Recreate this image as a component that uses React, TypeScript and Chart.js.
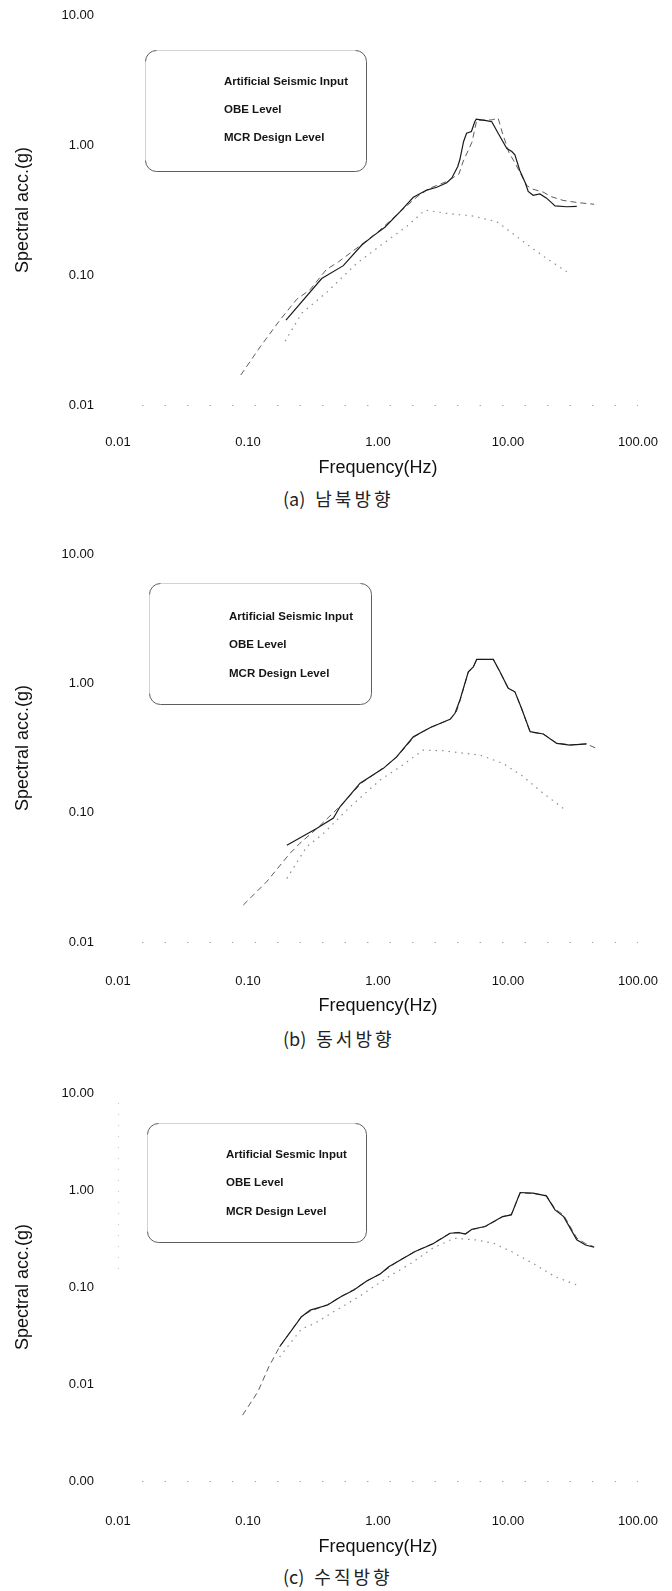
import React, { useEffect, useRef } from "react";
import { Chart, registerables } from "chart.js";

Chart.register(...registerables);

const FONT = "'Liberation Sans', Arial, Helvetica, sans-serif";
Chart.defaults.font.family = FONT;

// Axis ticks
const freqTicks = [0.01, 0.1, 1, 10, 100];
const accTicksHorizontal = [0.01, 0.1, 1, 10];
const accTicksVertical = [0.001, 0.01, 0.1, 1, 10];

// (a) 남북방향 — north-south component
const nsInputFreq = [0.196, 0.369, 0.541, 0.75, 0.92, 1.13, 1.48, 1.87, 2.37, 2.83, 3.38, 3.69, 4.1, 4.26, 4.55, 4.8, 5.23, 5.55, 5.7, 6.8, 7.5, 8.4, 9.8, 10.7, 11.3, 12.3, 13.6, 14.3, 15.6, 17.6, 19.8, 23.0, 28.3, 33.8];
const nsInputAcc = [0.045, 0.094, 0.118, 0.17, 0.2, 0.233, 0.307, 0.396, 0.45, 0.473, 0.513, 0.555, 0.68, 0.77, 1.06, 1.23, 1.27, 1.51, 1.58, 1.54, 1.51, 1.23, 0.94, 0.89, 0.84, 0.64, 0.51, 0.44, 0.41, 0.42, 0.39, 0.34, 0.335, 0.337];
const nsObeFreq = [0.193, 0.26, 0.4, 0.686, 1.1, 1.66, 2.3, 3.37, 5.4, 8.2, 10.7, 14.8, 19.8, 28.3];
const nsObeAcc = [0.031, 0.051, 0.073, 0.123, 0.175, 0.236, 0.316, 0.298, 0.284, 0.257, 0.211, 0.165, 0.134, 0.106];
const nsMcrFreq = [0.088, 0.124, 0.176, 0.237, 0.3, 0.4, 0.495, 0.75, 1.0, 1.5, 2.0, 2.5, 3.4, 4.2, 4.5, 5.28, 5.75, 7.5, 8.4, 9.0, 10.2, 11.3, 13.9, 15.2, 18.6, 21.6, 26.5, 31, 35, 46];
const nsMcrAcc = [0.017, 0.028, 0.045, 0.065, 0.077, 0.11, 0.126, 0.172, 0.215, 0.31, 0.4, 0.465, 0.525, 0.6, 0.74, 1.05, 1.55, 1.56, 1.61, 1.26, 0.87, 0.73, 0.49, 0.46, 0.435, 0.4, 0.375, 0.366, 0.36, 0.35];

// (b) 동서방향 — east-west component
const ewInputFreq = [0.199, 0.337, 0.454, 0.51, 0.728, 1.1, 1.39, 1.87, 2.51, 3.58, 3.91, 4.27, 4.95, 5.41, 5.74, 7.71, 8.67, 10.05, 11.3, 12.7, 14.8, 18.7, 23.7, 30.0, 40.3];
const ewInputAcc = [0.056, 0.0755, 0.0908, 0.111, 0.169, 0.22, 0.27, 0.386, 0.454, 0.527, 0.587, 0.743, 1.23, 1.34, 1.53, 1.53, 1.23, 0.915, 0.86, 0.641, 0.423, 0.406, 0.343, 0.333, 0.34];
const ewObeFreq = [0.199, 0.283, 0.38, 0.61, 1.04, 1.48, 2.23, 3.18, 6.1, 9.2, 13.1, 18.7, 26.6];
const ewObeAcc = [0.031, 0.0545, 0.069, 0.111, 0.179, 0.226, 0.305, 0.301, 0.279, 0.24, 0.19, 0.141, 0.108];
const ewMcrFreq = [0.092, 0.139, 0.21, 0.251, 0.337, 0.51, 0.75, 1.1, 1.4, 1.9, 2.5, 3.6, 4.0, 4.3, 4.95, 5.4, 5.75, 7.7, 8.7, 10.0, 11.3, 12.7, 14.8, 18.7, 23.7, 30, 40, 49.5];
const ewMcrAcc = [0.0193, 0.0292, 0.0484, 0.058, 0.075, 0.112, 0.17, 0.222, 0.27, 0.385, 0.455, 0.527, 0.6, 0.75, 1.22, 1.33, 1.53, 1.53, 1.22, 0.92, 0.86, 0.64, 0.42, 0.405, 0.345, 0.335, 0.34, 0.31];

// (c) 수직방향 — vertical component
const vtInputFreq = [0.175, 0.258, 0.301, 0.41, 0.518, 0.653, 0.824, 1.04, 1.21, 1.42, 1.93, 2.63, 3.59, 4.19, 4.7, 5.28, 6.66, 7.78, 9.08, 10.6, 12.4, 15.6, 19.7, 23.0, 26.8, 33.8, 39.5, 46];
const vtInputAcc = [0.0242, 0.0494, 0.0578, 0.0652, 0.0794, 0.093, 0.116, 0.136, 0.162, 0.183, 0.232, 0.278, 0.358, 0.364, 0.352, 0.394, 0.42, 0.473, 0.532, 0.554, 0.942, 0.927, 0.871, 0.624, 0.532, 0.306, 0.271, 0.257];
const vtObeFreq = [0.175, 0.258, 0.325, 0.48, 0.71, 1.21, 1.79, 2.63, 3.85, 5.6, 7.78, 10.6, 15.6, 23, 33.8];
const vtObeAcc = [0.019, 0.037, 0.042, 0.058, 0.079, 0.128, 0.175, 0.251, 0.318, 0.306, 0.282, 0.232, 0.175, 0.128, 0.105];
const vtMcrFreq = [0.0908, 0.119, 0.1445, 0.175, 0.258, 0.3, 0.41, 0.52, 0.65, 0.82, 1.04, 1.42, 1.93, 2.63, 3.59, 4.19, 4.7, 5.3, 6.7, 7.8, 9.1, 10.6, 12.4, 15.6, 19.7, 23.0, 26.8, 33.8, 39.5, 46];
const vtMcrAcc = [0.00477, 0.0083, 0.015, 0.0242, 0.05, 0.056, 0.066, 0.08, 0.094, 0.115, 0.137, 0.184, 0.233, 0.28, 0.36, 0.366, 0.355, 0.39, 0.42, 0.47, 0.53, 0.56, 0.93, 0.92, 0.88, 0.64, 0.55, 0.32, 0.28, 0.26];

// Legend texts and captions
const legendLabels = ["Artificial Seismic Input", "OBE Level", "MCR Design Level"];
const legendLabelsVertical = ["Artificial Sesmic Input", "OBE Level", "MCR Design Level"];
const captionTags = ["(a)", "(b)", "(c)"];
const captionTexts = ["남북방향", "동서방향", "수직방향"];

type Series = { freq: number[]; acc: number[] };
type LegendSpec = { left: number; top: number; right: number; bottom: number; textX: number; rows: number[] };
type PanelSpec = {
  top: number;
  height: number;
  plotHeight: number;
  accTicks: number[];
  xTickPad: number;
  xTitlePad: number;
  input: Series;
  obe: Series;
  mcr: Series;
  labels: string[];
  legend: LegendSpec;
  leftGuide: boolean;
  captionTag: string;
  captionText: string;
  captionY: number;
};

const pts = (s: Series) => s.freq.map((f, i) => ({ x: f, y: s.acc[i] }));

// Sparse dotted guide along the bottom of the plot (and left edge where wanted)
const frameGuides = {
  id: "frameGuides",
  beforeDatasetsDraw(chart: any, _args: any, opts: any) {
    const { ctx, scales } = chart;
    const x = scales.x;
    const y = scales.y;
    ctx.save();
    ctx.lineWidth = 1;
    ctx.strokeStyle = "#a8a8a8";
    ctx.setLineDash([1.5, 21]);
    const yb = Math.round(y.getPixelForValue(y.min)) + 0.5;
    ctx.beginPath();
    ctx.moveTo(x.getPixelForValue(x.min) + 24, yb);
    ctx.lineTo(x.getPixelForValue(x.max), yb);
    ctx.stroke();
    if (opts.left) {
      ctx.strokeStyle = "#c6c6c6";
      ctx.setLineDash([1, 10]);
      const xl = Math.round(x.getPixelForValue(x.min)) + 0.5;
      ctx.beginPath();
      ctx.moveTo(xl, y.getPixelForValue(y.max) + 10);
      ctx.lineTo(xl, y.getPixelForValue(0.15));
      ctx.stroke();
    }
    ctx.restore();
  },
};

// Rounded legend frame holding the series names
const legendFrame = {
  id: "legendFrame",
  afterDraw(chart: any, _args: any, o: any) {
    const { ctx } = chart;
    const l = o.left + 0.5;
    const t = o.top + 0.5;
    const r = o.right - 0.5;
    const b = o.bottom - 0.5;
    const rad = 11;
    ctx.save();
    ctx.lineWidth = 1;
    ctx.strokeStyle = "#d2d2d2";
    ctx.beginPath();
    ctx.moveTo(l, b - rad);
    ctx.lineTo(l, t + rad);
    ctx.moveTo(l + rad, t);
    ctx.lineTo(r - rad, t);
    ctx.stroke();
    ctx.strokeStyle = "#5e5e5e";
    ctx.beginPath();
    ctx.arc(l + rad, t + rad, rad, Math.PI, 1.5 * Math.PI);
    ctx.stroke();
    ctx.beginPath();
    ctx.arc(r - rad, t + rad, rad, 1.5 * Math.PI, 2 * Math.PI);
    ctx.lineTo(r, b - rad);
    ctx.arc(r - rad, b - rad, rad, 0, 0.5 * Math.PI);
    ctx.lineTo(l + rad, b);
    ctx.arc(l + rad, b - rad, rad, 0.5 * Math.PI, Math.PI);
    ctx.stroke();
    ctx.fillStyle = "#151515";
    ctx.font = `bold 11.5px ${FONT}`;
    ctx.textBaseline = "middle";
    ctx.textAlign = "left";
    chart.data.datasets.forEach((d: any, i: number) => ctx.fillText(d.label, o.textX, o.rows[i]));
    ctx.restore();
  },
};

function Panel({ spec }: { spec: PanelSpec }) {
  const ref = useRef<HTMLCanvasElement>(null);
  useEffect(() => {
    const canvas = ref.current;
    if (!canvas) return;
    const xAxisHeight = spec.height - 15 - spec.plotHeight;
    const fmt = (v: any) => Number(v).toFixed(2);
    const chart = new Chart(canvas, {
      type: "line",
      data: {
        datasets: [
          { label: spec.labels[0], data: pts(spec.input), borderColor: "#1a1a1a", borderWidth: 1.2, pointRadius: 0, tension: 0, fill: false },
          { label: spec.labels[1], data: pts(spec.obe), borderColor: "#8c8c8c", borderWidth: 1.2, borderDash: [1.5, 5], pointRadius: 0, tension: 0, fill: false },
          { label: spec.labels[2], data: pts(spec.mcr), borderColor: "#5c5c5c", borderWidth: 1, borderDash: [6, 4], pointRadius: 0, tension: 0, fill: false },
        ],
      },
      options: {
        responsive: false,
        maintainAspectRatio: false,
        animation: false,
        events: [],
        layout: { padding: { left: 0, right: 34, top: 15, bottom: 0 } },
        plugins: {
          legend: { display: false },
          tooltip: { enabled: false },
          legendFrame: spec.legend,
          frameGuides: { left: spec.leftGuide },
        } as any,
        scales: {
          x: {
            type: "logarithmic",
            position: "bottom",
            min: freqTicks[0],
            max: freqTicks[freqTicks.length - 1],
            afterBuildTicks: (s: any) => {
              s.ticks = freqTicks.map((v) => ({ value: v }));
            },
            afterFit: (s: any) => {
              s.height = xAxisHeight;
              s.paddingLeft = 0;
              s.paddingRight = 0;
            },
            grid: { display: false, drawTicks: false },
            border: { display: false },
            ticks: { autoSkip: false, maxRotation: 0, padding: spec.xTickPad, color: "#111", font: { size: 13 }, callback: fmt },
            title: { display: true, text: "Frequency(Hz)", color: "#111", font: { size: 18 }, padding: { top: 0, bottom: spec.xTitlePad } },
          },
          y: {
            type: "logarithmic",
            position: "left",
            min: spec.accTicks[0],
            max: spec.accTicks[spec.accTicks.length - 1],
            afterBuildTicks: (s: any) => {
              s.ticks = spec.accTicks.map((v) => ({ value: v }));
            },
            afterFit: (s: any) => {
              s.width = 118;
              s.paddingTop = 0;
              s.paddingBottom = 0;
            },
            grid: { display: false, drawTicks: false },
            border: { display: false },
            ticks: { autoSkip: false, padding: 24, color: "#111", font: { size: 13 }, callback: fmt },
            title: { display: true, text: "Spectral acc.(g)", color: "#111", font: { size: 18 }, padding: { top: 12, bottom: 0 } },
          },
        },
      } as any,
      plugins: [frameGuides, legendFrame],
    });
    return () => chart.destroy();
  }, [spec]);

  return (
    <>
      <canvas
        ref={ref}
        width={672}
        height={spec.height}
        style={{ position: "absolute", left: 0, top: spec.top, width: 672, height: spec.height, display: "block" }}
      />
      <div
        style={{
          position: "absolute",
          left: 283,
          top: spec.captionY - 12,
          height: 24,
          lineHeight: "24px",
          fontSize: 18,
          fontFamily: "'Noto Sans CJK KR', 'Noto Sans', sans-serif",
          color: "#222",
          whiteSpace: "nowrap",
        }}
      >
        <span>{spec.captionTag}</span>
        <span style={{ marginLeft: 10, letterSpacing: 3 }}>{spec.captionText}</span>
      </div>
    </>
  );
}

const panels: PanelSpec[] = [
  {
    top: 0,
    height: 480,
    plotHeight: 390,
    accTicks: accTicksHorizontal,
    xTickPad: 30,
    xTitlePad: 1,
    input: { freq: nsInputFreq, acc: nsInputAcc },
    obe: { freq: nsObeFreq, acc: nsObeAcc },
    mcr: { freq: nsMcrFreq, acc: nsMcrAcc },
    labels: legendLabels,
    legend: { left: 145, top: 50, right: 367, bottom: 172, textX: 224, rows: [82, 110, 138] },
    leftGuide: false,
    captionTag: captionTags[0],
    captionText: captionTexts[0],
    captionY: 498,
  },
  {
    top: 539,
    height: 480,
    plotHeight: 388,
    accTicks: accTicksHorizontal,
    xTickPad: 32,
    xTitlePad: 2,
    input: { freq: ewInputFreq, acc: ewInputAcc },
    obe: { freq: ewObeFreq, acc: ewObeAcc },
    mcr: { freq: ewMcrFreq, acc: ewMcrAcc },
    labels: legendLabels,
    legend: { left: 149, top: 44, right: 372, bottom: 166, textX: 229, rows: [78, 106, 135] },
    leftGuide: false,
    captionTag: captionTags[1],
    captionText: captionTexts[1],
    captionY: 1038,
  },
  {
    top: 1078,
    height: 482,
    plotHeight: 388,
    accTicks: accTicksVertical,
    xTickPad: 33,
    xTitlePad: 2,
    input: { freq: vtInputFreq, acc: vtInputAcc },
    obe: { freq: vtObeFreq, acc: vtObeAcc },
    mcr: { freq: vtMcrFreq, acc: vtMcrAcc },
    labels: legendLabelsVertical,
    legend: { left: 147, top: 45, right: 367, bottom: 165, textX: 226, rows: [77, 105, 134] },
    leftGuide: true,
    captionTag: captionTags[2],
    captionText: captionTexts[2],
    captionY: 1576,
  },
];

export default function App() {
  return (
    <div style={{ position: "absolute", left: 0, top: 0, width: 672, height: 1591, background: "#fff", overflow: "hidden" }}>
      {panels.map((p, i) => (
        <Panel key={i} spec={p} />
      ))}
    </div>
  );
}
